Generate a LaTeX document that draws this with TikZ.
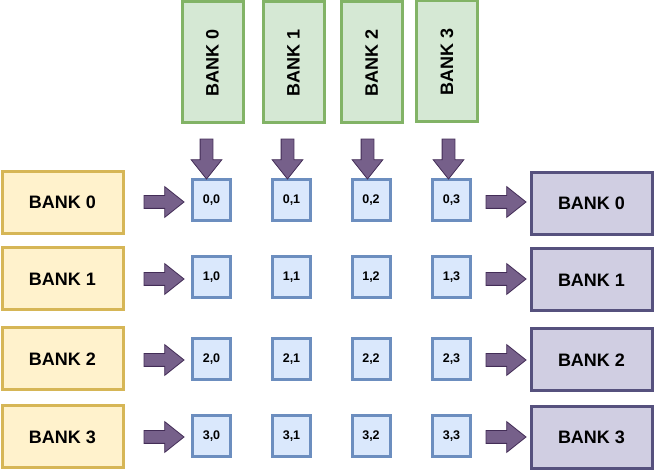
\documentclass[tikz,border=0pt]{standalone}
\usepackage{fontspec}
\setmainfont{Liberation Sans}
\usetikzlibrary{shapes.arrows}

\definecolor{topfill}{HTML}{D5E8D4}
\definecolor{topline}{HTML}{82B366}
\definecolor{infill}{HTML}{FFF2CC}
\definecolor{inline}{HTML}{D6B656}
\definecolor{outfill}{HTML}{D0CEE2}
\definecolor{outline}{HTML}{56517E}
\definecolor{cellfill}{HTML}{DAE8FC}
\definecolor{cellline}{HTML}{6C8EBF}
\definecolor{arrfill}{HTML}{76608A}
\definecolor{arrline}{HTML}{432D57}

\tikzset{
  bankbox/.style={draw,line width=3pt,minimum width=121pt,minimum height=62pt,
    inner sep=0pt,font=\fontsize{18}{20}\selectfont\bfseries},
  topbank/.style={bankbox,fill=topfill,draw=topline,rotate=90,minimum height=61pt},
  inbank/.style={bankbox,fill=infill,draw=inline},
  outbank/.style={bankbox,fill=outfill,draw=outline},
  cell/.style={draw=cellline,fill=cellfill,line width=3pt,minimum width=38pt,
    minimum height=41pt,inner sep=0pt,font=\fontsize{12.5}{14}\selectfont\bfseries},
  blockarrow/.style={single arrow,draw=arrline,fill=arrfill,line width=0.8pt,
    minimum height=40pt,inner sep=6pt,single arrow head extend=9pt,
    single arrow tip angle=77},
}

\begin{document}
\begin{tikzpicture}[x=1pt,y=-1pt]
  \useasboundingbox (0,0) rectangle (654,470);

  % banks on top
  \node[topbank] (t0) at (212.5,62.5) {BANK 0\hspace{11pt}};
  \node[topbank] (t1) at (293.5,62.5) {BANK 1\hspace{11pt}};
  \node[topbank] (t2) at (371.5,62.5) {BANK 2\hspace{11pt}};
  \node[topbank] (t3) at (447,61.5) {BANK 3\hspace{11pt}};

  % banks on the left
  \node[inbank] (l0) at (62.5,202.5) {BANK 0};
  \node[inbank] (l1) at (62.5,279) {BANK 1};
  \node[inbank] (l2) at (62.5,359) {BANK 2};
  \node[inbank] (l3) at (62.5,437) {BANK 3};

  % banks on the right
  \node[outbank] (r0) at (591.5,203.5) {BANK 0};
  \node[outbank] (r1) at (591.5,280) {BANK 1};
  \node[outbank] (r2) at (591.5,360) {BANK 2};
  \node[outbank] (r3) at (591.5,437.5) {BANK 3};

  % cells
  \node[cell] (c00) at (211.5,200) {0,0};
  \node[cell] (c01) at (291.5,200) {0,1};
  \node[cell] (c02) at (371,200) {0,2};
  \node[cell] (c03) at (451.5,200) {0,3};
  \node[cell] (c10) at (211.5,277.5) {1,0};
  \node[cell] (c11) at (291.5,277.5) {1,1};
  \node[cell] (c12) at (371,277.5) {1,2};
  \node[cell] (c13) at (451.5,277.5) {1,3};
  \node[cell] (c20) at (211.5,359.5) {2,0};
  \node[cell] (c21) at (291.5,359.5) {2,1};
  \node[cell] (c22) at (371,359.5) {2,2};
  \node[cell] (c23) at (451.5,359.5) {2,3};
  \node[cell] (c30) at (211.5,436.5) {3,0};
  \node[cell] (c31) at (291.5,436.5) {3,1};
  \node[cell] (c32) at (371,436.5) {3,2};
  \node[cell] (c33) at (451.5,436.5) {3,3};

  % arrows down
  \node[blockarrow,rotate=-90] (d0) at (206.5,155) {};
  \node[blockarrow,rotate=-90] (d1) at (287.5,155) {};
  \node[blockarrow,rotate=-90] (d2) at (367.5,155) {};
  \node[blockarrow,rotate=-90] (d3) at (448.5,155) {};

  % arrows in
  \node[blockarrow] (a0) at (160,202) {};
  \node[blockarrow] (a1) at (160,279) {};
  \node[blockarrow] (a2) at (160,360) {};
  \node[blockarrow] (a3) at (160,437) {};

  % arrows out
  \node[blockarrow] (b0) at (502,202) {};
  \node[blockarrow] (b1) at (502,279) {};
  \node[blockarrow] (b2) at (502,360) {};
  \node[blockarrow] (b3) at (502,437) {};
\end{tikzpicture}
\end{document}
